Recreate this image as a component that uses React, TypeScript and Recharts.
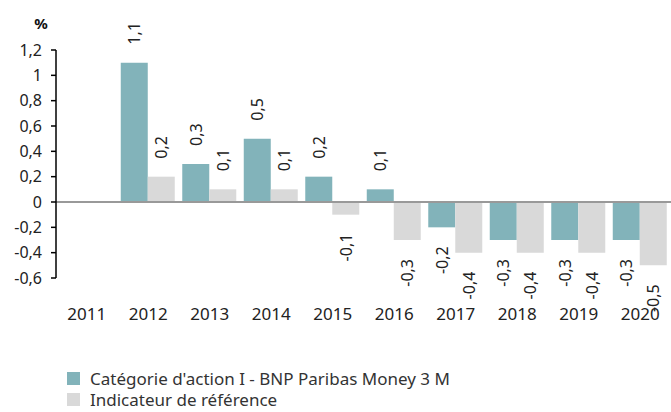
import { BarChart, Bar, XAxis, YAxis, Legend, ReferenceLine } from 'recharts';

const years = ['2011', '2012', '2013', '2014', '2015', '2016', '2017', '2018', '2019', '2020'];
const fundValues = [null, 1.1, 0.3, 0.5, 0.2, 0.1, -0.2, -0.3, -0.3, -0.3];
const benchmarkValues = [null, 0.2, 0.1, 0.1, -0.1, -0.3, -0.4, -0.4, -0.4, -0.5];
const yTicks = [-0.6, -0.4, -0.2, 0, 0.2, 0.4, 0.6, 0.8, 1, 1.2];

const fundName = "Catégorie d'action I - BNP Paribas Money 3 M";
const benchmarkName = 'Indicateur de référence';

const TEAL = '#82b3ba';
const GREY = '#d9d9d9';
const FONT = '"Noto Sans", sans-serif';

const data = years.map((year, i) => ({
    year,
    fund: fundValues[i],
    benchmark: benchmarkValues[i],
}));

const fmt = (v: number) => String(v).replace('.', ',');

const RotatedLabel = (props: any) => {
    const { x, y, width, height, value } = props;
    if (value === null || value === undefined) return null;
    const top = Math.min(y, y + height);
    const bottom = Math.max(y, y + height);
    const cx = x + width / 2;
    const positive = value >= 0;
    const ay = positive ? top - 18 : bottom + 19;
    return (
        <text
            x={cx}
            y={ay}
            transform={`rotate(-90, ${cx}, ${ay})`}
            textAnchor={positive ? 'start' : 'end'}
            dominantBaseline="central"
            fontSize={16}
            fontFamily={FONT}
            fill="#222"
        >
            {fmt(value)}
        </text>
    );
};

const LegendContent = () => (
    <div style={{ fontFamily: FONT, fontSize: 17, lineHeight: '17px', color: '#333', paddingLeft: 67, paddingTop: 2, height: 44 }}>
        {[
            { name: fundName, color: TEAL },
            { name: benchmarkName, color: GREY },
        ].map((item) => (
            <div key={item.name} style={{ display: 'flex', alignItems: 'center', height: 21, whiteSpace: 'nowrap' }}>
                <span style={{ width: 13, height: 13, background: item.color, marginRight: 10, display: 'inline-block', flex: 'none' }} />
                <span>{item.name}</span>
            </div>
        ))}
    </div>
);

const App = () => {
    return (
        <div style={{ position: 'absolute', left: 0, top: 0 }}>
            <BarChart
                width={671}
                height={412}
                data={data}
                margin={{ top: 50, right: 0, bottom: 0, left: 0 }}
                barCategoryGap="5.3%"
                barGap={0}
            >
                <XAxis
                    dataKey="year"
                    axisLine={false}
                    tickLine={false}
                    tickMargin={24}
                    height={88}
                    tick={{ fontSize: 17, fontFamily: FONT, fill: '#222' }}
                    interval={0}
                />
                <YAxis
                    domain={[-0.6, 1.2]}
                    ticks={yTicks}
                    width={56}
                    tickFormatter={fmt}
                    tickSize={5}
                    tickMargin={9}
                    axisLine={{ stroke: '#000', strokeWidth: 1.5 }}
                    tickLine={{ stroke: '#000', strokeWidth: 1.5 }}
                    tick={{ fontSize: 16, fontFamily: FONT, fill: '#222' }}
                    interval={0}
                    label={{
                        content: (p: any) => (
                            <text
                                x={p.viewBox.x + 41}
                                y={p.viewBox.y - 27}
                                textAnchor="middle"
                                dominantBaseline="central"
                                fontSize={15}
                                fontWeight="bold"
                                fontFamily={FONT}
                                fill="#111"
                            >
                                %
                            </text>
                        ),
                    }}
                />
                <ReferenceLine y={0} stroke="#999" strokeWidth={2} />
                <Bar dataKey="fund" name={fundName} fill={TEAL} isAnimationActive={false} label={<RotatedLabel />} />
                <Bar dataKey="benchmark" name={benchmarkName} fill={GREY} isAnimationActive={false} label={<RotatedLabel />} />
                <Legend verticalAlign="bottom" align="left" content={<LegendContent />} />
            </BarChart>
        </div>
    );
};

export default App;
